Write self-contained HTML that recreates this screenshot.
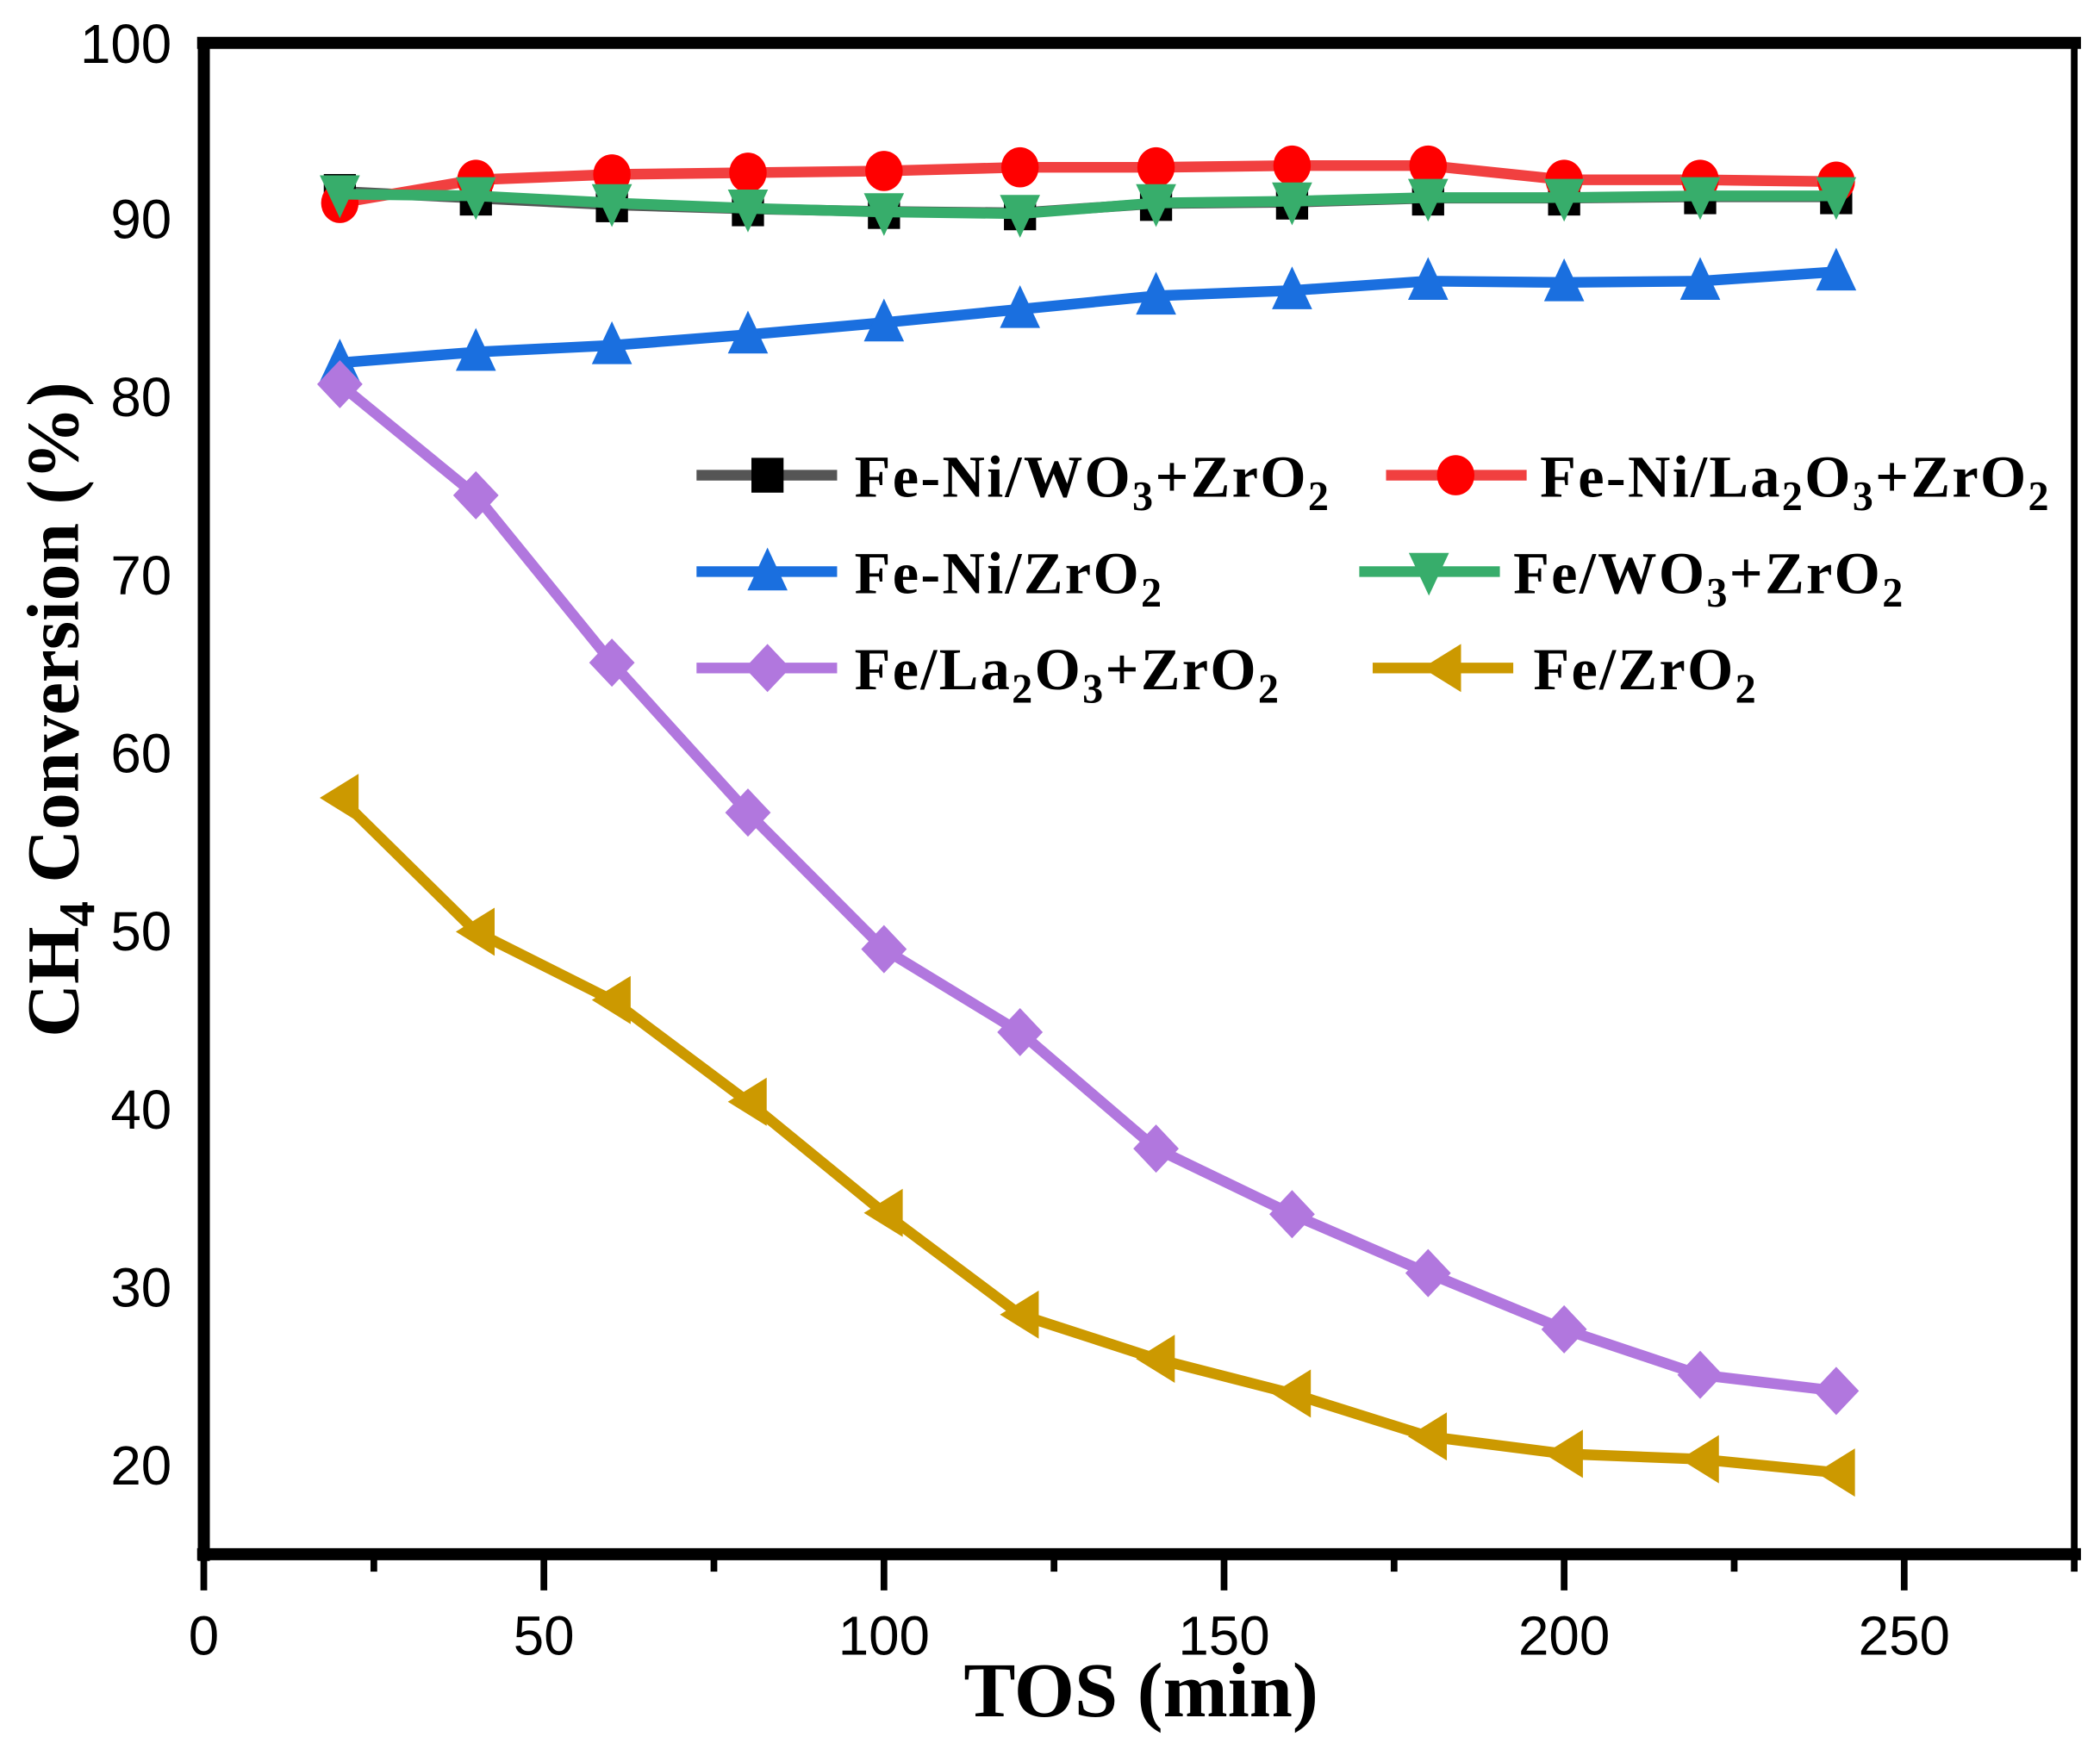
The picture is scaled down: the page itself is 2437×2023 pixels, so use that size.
<!DOCTYPE html>
<html><head><meta charset="utf-8"><style>html,body{margin:0;padding:0;background:#fff}svg{display:block}</style></head>
<body>
<svg width="2437" height="2023" viewBox="0 0 1568 1302" xmlns="http://www.w3.org/2000/svg">
<defs>
<rect id="sq" x="-12" y="-13" width="24" height="26" fill="#000"/>
<ellipse id="ci" rx="14" ry="15" fill="#ff0000"/>
<polygon id="tu" points="0,-18 15,14 -15,14" fill="#1a6fdf"/>
<polygon id="td" points="0,18 15,-14 -15,-14" fill="#37ad6b"/>
<polygon id="di" points="0,-18 17,0 0,18 -17,0" fill="#b177de"/>
<polygon id="tl" points="-15,0 14,-18 14,18" fill="#cc9900"/>
</defs>
<rect width="1568" height="1302" fill="#fff"/>

<g fill="none" stroke-width="8" stroke-linejoin="round">
<polyline stroke="#555" points="253.6,143 355.2,148 456.8,153 558.4,156 660,158 761.6,159 863.2,152 964.8,151 1066.4,148 1168,148 1269.6,147 1371.2,147"/>
<polyline stroke="#f14040" points="253.6,151.6 355.2,134.3 456.8,130.3 558.4,129 660,127.7 761.6,125 863.2,125 964.8,123.7 1066.4,123.7 1168,134.3 1269.6,134.3 1371.2,135.7"/>
<polyline stroke="#1a6fdf" points="253.6,271 355.2,263 456.8,258 558.4,250 660,241 761.6,231 863.2,221 964.8,217 1066.4,210 1168,211 1269.6,210 1371.2,203"/>
<polyline stroke="#b177de" points="253.6,287 355.2,370 456.8,495 558.4,607 660,709 761.6,771 863.2,858 964.8,907 1066.4,951 1168,993 1269.6,1027 1371.2,1039"/>
<polyline stroke="#cc9900" points="253.6,596 355.2,696 456.8,747 558.4,823 660,906 761.6,982 863.2,1015 964.8,1041 1066.4,1073 1168,1086 1269.6,1090 1371.2,1100"/>
</g>
<g>
<use href="#sq" x="253.6" y="143"/><use href="#sq" x="355.2" y="148"/><use href="#sq" x="456.8" y="153"/><use href="#sq" x="558.4" y="156"/><use href="#sq" x="660" y="158"/><use href="#sq" x="761.6" y="159"/><use href="#sq" x="863.2" y="152"/><use href="#sq" x="964.8" y="151"/><use href="#sq" x="1066.4" y="148"/><use href="#sq" x="1168" y="148"/><use href="#sq" x="1269.6" y="147"/><use href="#sq" x="1371.2" y="147"/>
<use href="#ci" x="253.6" y="151.6"/><use href="#ci" x="355.2" y="134.3"/><use href="#ci" x="456.8" y="130.3"/><use href="#ci" x="558.4" y="129"/><use href="#ci" x="660" y="127.7"/><use href="#ci" x="761.6" y="125"/><use href="#ci" x="863.2" y="125"/><use href="#ci" x="964.8" y="123.7"/><use href="#ci" x="1066.4" y="123.7"/><use href="#ci" x="1168" y="134.3"/><use href="#ci" x="1269.6" y="134.3"/><use href="#ci" x="1371.2" y="135.7"/>
<use href="#tu" x="253.6" y="271"/><use href="#tu" x="355.2" y="263"/><use href="#tu" x="456.8" y="258"/><use href="#tu" x="558.4" y="250"/><use href="#tu" x="660" y="241"/><use href="#tu" x="761.6" y="231"/><use href="#tu" x="863.2" y="221"/><use href="#tu" x="964.8" y="217"/><use href="#tu" x="1066.4" y="210"/><use href="#tu" x="1168" y="211"/><use href="#tu" x="1269.6" y="210"/><use href="#tu" x="1371.2" y="203"/>
</g>
<polyline fill="none" stroke="#37ad6b" stroke-width="8" stroke-linejoin="round" points="253.6,145 355.2,146.3 456.8,151.6 558.4,155.6 660,158.3 761.6,159.6 863.2,151.6 964.8,150.3 1066.4,147.6 1168,147.6 1269.6,146.3 1371.2,146.3"/>
<g>
<use href="#td" x="253.6" y="145"/><use href="#td" x="355.2" y="146.3"/><use href="#td" x="456.8" y="151.6"/><use href="#td" x="558.4" y="155.6"/><use href="#td" x="660" y="158.3"/><use href="#td" x="761.6" y="159.6"/><use href="#td" x="863.2" y="151.6"/><use href="#td" x="964.8" y="150.3"/><use href="#td" x="1066.4" y="147.6"/><use href="#td" x="1168" y="147.6"/><use href="#td" x="1269.6" y="146.3"/><use href="#td" x="1371.2" y="146.3"/>
<use href="#di" x="253.6" y="287"/><use href="#di" x="355.2" y="370"/><use href="#di" x="456.8" y="495"/><use href="#di" x="558.4" y="607"/><use href="#di" x="660" y="709"/><use href="#di" x="761.6" y="771"/><use href="#di" x="863.2" y="858"/><use href="#di" x="964.8" y="907"/><use href="#di" x="1066.4" y="951"/><use href="#di" x="1168" y="993"/><use href="#di" x="1269.6" y="1027"/><use href="#di" x="1371.2" y="1039"/>
<use href="#tl" x="253.6" y="596"/><use href="#tl" x="355.2" y="696"/><use href="#tl" x="456.8" y="747"/><use href="#tl" x="558.4" y="823"/><use href="#tl" x="660" y="906"/><use href="#tl" x="761.6" y="982"/><use href="#tl" x="863.2" y="1015"/><use href="#tl" x="964.8" y="1041"/><use href="#tl" x="1066.4" y="1073"/><use href="#tl" x="1168" y="1086"/><use href="#tl" x="1269.6" y="1090"/><use href="#tl" x="1371.2" y="1100"/>
</g>

<rect x="152" y="32" width="1397" height="1129" fill="none" stroke="#000" stroke-width="5"/>
<line x1="147" y1="32" x2="1554" y2="32" stroke="#000" stroke-width="9"/>
<line x1="152" y1="28" x2="152" y2="1166" stroke="#000" stroke-width="9"/>
<line x1="147" y1="1161" x2="1554" y2="1161" stroke="#000" stroke-width="9"/>
<g stroke="#000" stroke-width="5">
<line x1="152" y1="1161" x2="152" y2="1188"/><line x1="406" y1="1161" x2="406" y2="1188"/><line x1="660" y1="1161" x2="660" y2="1188"/><line x1="914" y1="1161" x2="914" y2="1188"/><line x1="1168" y1="1161" x2="1168" y2="1188"/><line x1="1422" y1="1161" x2="1422" y2="1188"/>
<line x1="279" y1="1161" x2="279" y2="1174"/><line x1="533" y1="1161" x2="533" y2="1174"/><line x1="787" y1="1161" x2="787" y2="1174"/><line x1="1041" y1="1161" x2="1041" y2="1174"/><line x1="1295" y1="1161" x2="1295" y2="1174"/><line x1="1549" y1="1161" x2="1549" y2="1174"/>
</g>

<g font-family="Liberation Sans, Arial, sans-serif" font-size="41" fill="#000">
<g text-anchor="end">
<text x="128" y="47">100</text><text x="128" y="178">90</text><text x="128" y="311">80</text><text x="128" y="444">70</text><text x="128" y="577">60</text><text x="128" y="710">50</text><text x="128" y="843">40</text><text x="128" y="976">30</text><text x="128" y="1109">20</text>
</g>
<g text-anchor="middle">
<text x="152" y="1236">0</text><text x="406" y="1236">50</text><text x="660" y="1236">100</text><text x="914" y="1236">150</text><text x="1168" y="1236">200</text><text x="1422" y="1236">250</text>
</g>
</g>

<text x="852" y="1282" text-anchor="middle" font-family="Liberation Serif, Times New Roman, serif" font-weight="bold" font-size="58">TOS (min)</text>
<text transform="translate(58,530) rotate(-90)" text-anchor="middle" font-family="Liberation Serif, Times New Roman, serif" font-weight="bold" font-size="55">CH<tspan font-size="38" dy="12">4</tspan><tspan dy="-12"> Conversion (%)</tspan></text>

<g stroke-width="8">
<line x1="520" y1="355" x2="625" y2="355" stroke="#555"/>
<line x1="1035" y1="355" x2="1140" y2="355" stroke="#f14040"/>
<line x1="520" y1="427" x2="625" y2="427" stroke="#1a6fdf"/>
<line x1="1015" y1="427" x2="1120" y2="427" stroke="#37ad6b"/>
<line x1="520" y1="499" x2="625" y2="499" stroke="#b177de"/>
<line x1="1025" y1="499" x2="1130" y2="499" stroke="#cc9900"/>
</g>
<use href="#sq" x="573" y="355"/><use href="#ci" x="1087" y="355"/><use href="#tu" x="573" y="427"/><use href="#td" x="1067" y="427"/><use href="#di" x="573" y="499"/><use href="#tl" x="1077" y="499"/>
<g font-family="Liberation Serif, Cambria, serif" font-weight="bold" font-size="44" letter-spacing="1.5" fill="#000">
<text x="638" y="371">Fe-Ni/WO<tspan font-size="31" dy="10">3</tspan><tspan dy="-10">+ZrO</tspan><tspan font-size="31" dy="10">2</tspan></text>
<text x="1150" y="371">Fe-Ni/La<tspan font-size="31" dy="10">2</tspan><tspan dy="-10">O</tspan><tspan font-size="31" dy="10">3</tspan><tspan dy="-10">+ZrO</tspan><tspan font-size="31" dy="10">2</tspan></text>
<text x="638" y="443">Fe-Ni/ZrO<tspan font-size="31" dy="10">2</tspan></text>
<text x="1130" y="443">Fe/WO<tspan font-size="31" dy="10">3</tspan><tspan dy="-10">+ZrO</tspan><tspan font-size="31" dy="10">2</tspan></text>
<text x="638" y="515">Fe/La<tspan font-size="31" dy="10">2</tspan><tspan dy="-10">O</tspan><tspan font-size="31" dy="10">3</tspan><tspan dy="-10">+ZrO</tspan><tspan font-size="31" dy="10">2</tspan></text>
<text x="1145" y="515">Fe/ZrO<tspan font-size="31" dy="10">2</tspan></text>
</g>
</svg>
</body></html>
